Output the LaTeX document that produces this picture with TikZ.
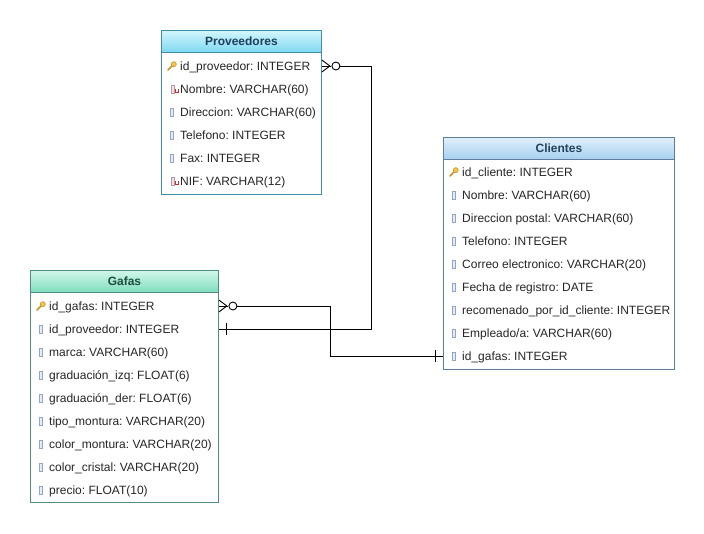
\documentclass[tikz,border=0pt]{standalone}
\usepackage{fontspec}
\setmainfont{Liberation Sans}
\usetikzlibrary{calc}
\frenchspacing

\definecolor{provA}{HTML}{D4F6FD}
\definecolor{provB}{HTML}{7DD8F2}
\definecolor{provLine}{HTML}{3D8EA6}
\definecolor{provT}{HTML}{1E3F5A}
\definecolor{cliA}{HTML}{E1F0FC}
\definecolor{cliB}{HTML}{A6D0EF}
\definecolor{cliLine}{HTML}{5E7E9B}
\definecolor{cliT}{HTML}{23445D}
\definecolor{gafA}{HTML}{D2F7EA}
\definecolor{gafB}{HTML}{7FDDBE}
\definecolor{gafLine}{HTML}{4F8C84}
\definecolor{gafT}{HTML}{1E4D40}
\definecolor{keygold}{HTML}{F2C34A}
\definecolor{keyrim}{HTML}{B88A22}
\definecolor{fieldfill}{HTML}{E4EBF7}
\definecolor{fieldrim}{HTML}{93A6CA}
\definecolor{uniqfill}{HTML}{EDE4E8}
\definecolor{uniqrim}{HTML}{B49AA6}
\definecolor{uniqred}{HTML}{D42A2A}
\definecolor{fieldtext}{HTML}{262626}

\tikzset{
  tablebody/.style={draw, fill=white, line width=0.9pt, anchor=north west, inner sep=0pt},
  tablehead/.style={draw, line width=0.9pt, anchor=north west, inner sep=0pt,
    minimum height=22pt, font=\fontsize{12}{14}\selectfont\bfseries},
  field/.style={anchor=base west, inner sep=0pt, text=fieldtext, font=\fontsize{12}{14}\selectfont},
  rel/.style={draw=black, line width=0.9pt},
  keyicon/.pic={
    \draw[keyrim!80!keygold, line width=1.6pt, line cap=round] (0.6,-0.6) -- (-4,4);
    \draw[keyrim, fill=keygold, line width=0.4pt] (1.8,-1.8) circle (2.6pt);
  },
  fieldicon/.pic={
    \draw[fieldrim, fill=fieldfill, line width=0.6pt] (-1.7,-4.2) rectangle (1.7,4.2);
  },
  uniqueicon/.pic={
    \draw[uniqrim, fill=uniqfill, line width=0.6pt] (-2.8,-4.2) rectangle (0.6,4.2);
    \draw[uniqred, line width=1.2pt] (1.3,0.2) -- (1.3,3.8) -- (4.4,3.8) -- (4.4,0.2);
  },
}

\begin{document}
\begin{tikzpicture}[x=1pt,y=-1pt]
\path[use as bounding box, fill=white] (0,0) rectangle (704,533);

% ---------- Proveedores ----------
\node[tablebody, draw=provLine, minimum width=160pt, minimum height=164pt] (prov) at (161,30) {};
\node[tablehead, draw=provLine, top color=provA, bottom color=provB, text=provT,
      minimum width=160pt] (prov-h) at (prov.north west) {Proveedores};
\foreach \t [count=\i] in {id\_proveedor: INTEGER, Nombre: VARCHAR(60),
    Direccion: VARCHAR(60), Telefono: INTEGER, Fax: INTEGER, NIF: VARCHAR(12)}{
  \coordinate (prov-r\i) at (161,43+23*\i);
  \node[field] (prov-\i) at ($(prov-r\i)+(19,4.3)$) {\t};
}
\path (prov-r1) ++(11,0) pic {keyicon};
\path (prov-r2) ++(13,0) pic {uniqueicon};
\foreach \i in {3,4,5} \path (prov-r\i) ++(11,0) pic {fieldicon};
\path (prov-r6) ++(13,0) pic {uniqueicon};

% ---------- Clientes ----------
\node[tablebody, draw=cliLine, minimum width=231pt, minimum height=232pt] (cli) at (443,137) {};
\node[tablehead, draw=cliLine, top color=cliA, bottom color=cliB, text=cliT,
      minimum width=231pt] (cli-h) at (cli.north west) {Clientes};
\foreach \t [count=\i] in {id\_cliente: INTEGER, Nombre: VARCHAR(60),
    Direccion postal: VARCHAR(60), Telefono: INTEGER, Correo electronico: VARCHAR(20),
    Fecha de registro: DATE, recomenado\_por\_id\_cliente: INTEGER,
    Empleado/a: VARCHAR(60), id\_gafas: INTEGER}{
  \coordinate (cli-r\i) at (443,149+23*\i);
  \node[field] (cli-\i) at ($(cli-r\i)+(19,4.3)$) {\t};
}
\path (cli-r1) ++(11,0) pic {keyicon};
\foreach \i in {2,...,9} \path (cli-r\i) ++(11,0) pic {fieldicon};

% ---------- Gafas ----------
\node[tablebody, draw=gafLine, minimum width=188pt, minimum height=232pt] (gaf) at (30,270) {};
\node[tablehead, draw=gafLine, top color=gafA, bottom color=gafB, text=gafT,
      minimum width=188pt] (gaf-h) at (gaf.north west) {Gafas};
\foreach \t [count=\i] in {id\_gafas: INTEGER, id\_proveedor: INTEGER, marca: VARCHAR(60),
    graduación\_izq: FLOAT(6), graduación\_der: FLOAT(6), tipo\_montura: VARCHAR(20),
    color\_montura: VARCHAR(20), color\_cristal: VARCHAR(20), precio: FLOAT(10)}{
  \coordinate (gaf-r\i) at (30,283+23*\i);
  \node[field] (gaf-\i) at ($(gaf-r\i)+(19,4.3)$) {\t};
}
\path (gaf-r1) ++(11,0) pic {keyicon};
\foreach \i in {2,...,9} \path (gaf-r\i) ++(11,0) pic {fieldicon};

% ---------- Relationships ----------
\coordinate (bendA) at (371,0);
\coordinate (bendB) at (330,0);
\coordinate (p1) at (prov.east |- prov-r1);
\coordinate (g1) at (gaf.east |- gaf-r1);
\coordinate (g2) at (gaf.east |- gaf-r2);
\coordinate (c9) at (cli.west |- cli-r9);

% Proveedores.id_proveedor (zero or many) -- Gafas.id_proveedor (one)
\draw[rel] ($(p1)+(0,-6)$) -- ($(p1)+(8,0)$) -- ($(p1)+(0,6)$);
\draw[rel] (p1) -- ++(9,0);
\draw[rel] ($(p1)+(14,0)$) circle (4pt);
\draw[rel] ($(p1)+(18,0)$) -- (p1 -| bendA) |- (g2);
\draw[rel] ($(g2)+(8,-6)$) -- ($(g2)+(8,6)$);

% Gafas.id_gafas (zero or many) -- Clientes.id_gafas (one)
\draw[rel] ($(g1)+(0,-6)$) -- ($(g1)+(8,0)$) -- ($(g1)+(0,6)$);
\draw[rel] (g1) -- ++(9,0);
\draw[rel] ($(g1)+(14,0)$) circle (4pt);
\draw[rel] ($(g1)+(18,0)$) -- (g1 -| bendB) |- (c9);
\draw[rel] ($(c9)+(-8,-6)$) -- ($(c9)+(-8,6)$);
\end{tikzpicture}
\end{document}
